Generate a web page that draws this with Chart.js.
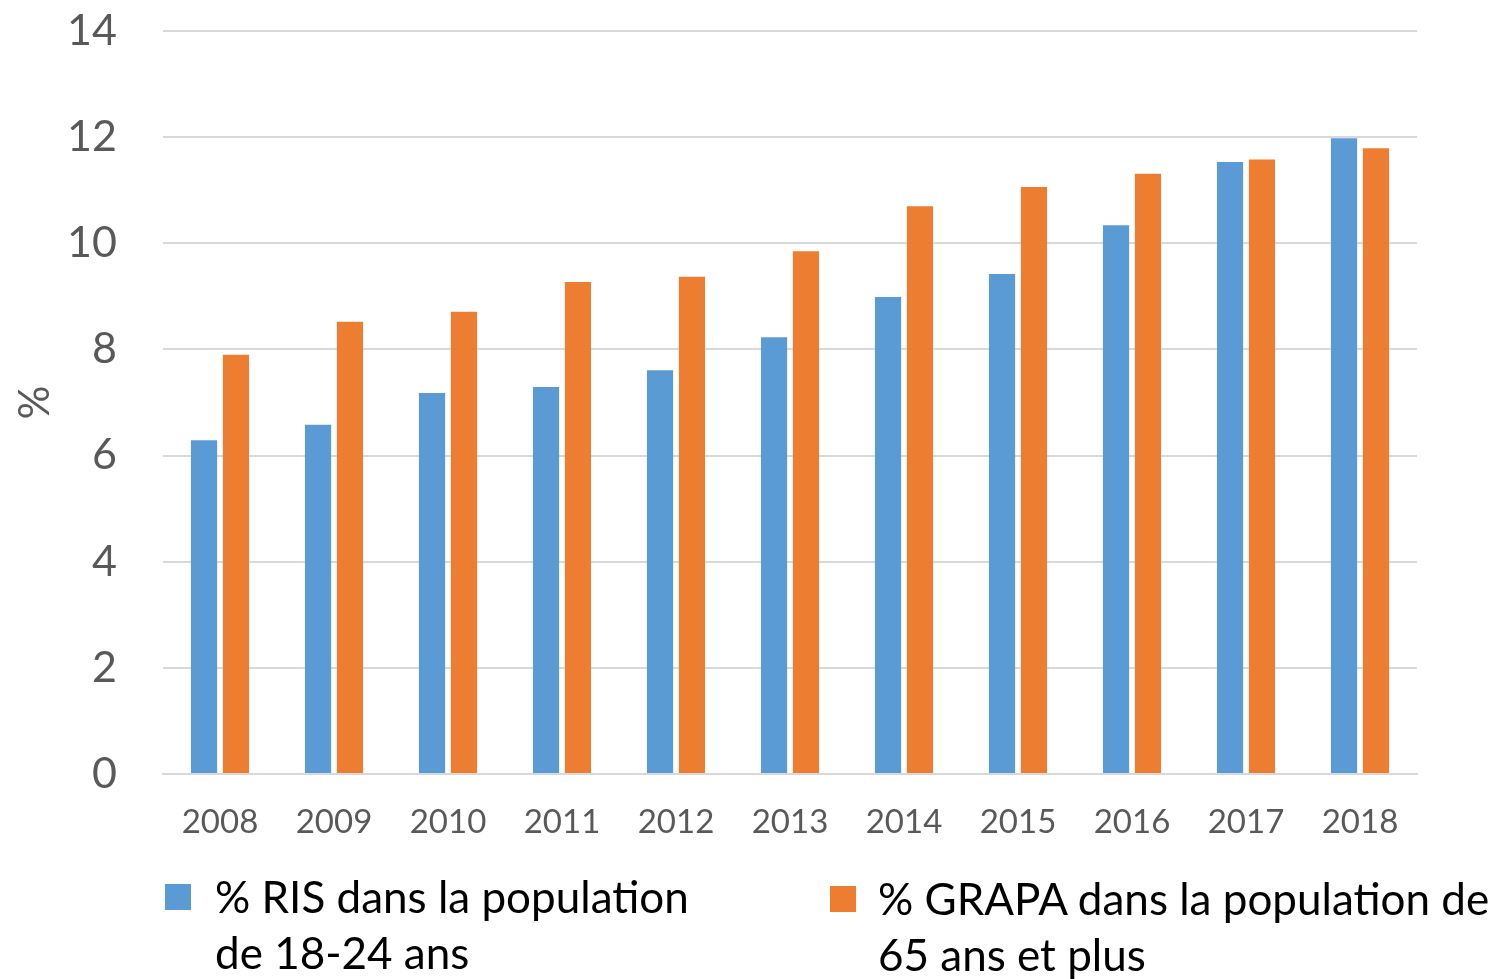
<!DOCTYPE html>
<html>
<head>
<meta charset="utf-8">
<script src="https://cdn.jsdelivr.net/npm/chart.js@4/dist/chart.umd.min.js"></script>
<style>
  html, body { margin: 0; padding: 0; background: #fff; }
  #wrap { position: relative; width: 1493px; height: 979px; overflow: hidden; }
  .legend-item { position: absolute; font-family: Lato, "Open Sans", sans-serif; font-size: 44px; line-height: 56px; color: #000; white-space: nowrap; }
  .legend-item .box { position: absolute; width: 26px; height: 26px; }
</style>
</head>
<body>
<div id="wrap">
  <canvas id="chart" width="1493" height="979"></canvas>
  <div class="legend-item" style="left:215px; top:868px;">
    <span class="box" style="left:-50px; top:16px; background:#5b9bd5;"></span>
    % RIS dans la population<br>de 18-24 ans
  </div>
  <div class="legend-item" style="left:878px; top:870px;">
    <span class="box" style="left:-48px; top:16px; background:#ed7d31;"></span>
    % GRAPA dans la population de<br>65 ans et plus
  </div>
</div>
<script>
// years on the x axis
const years = ["2008", "2009", "2010", "2011", "2012", "2013", "2014", "2015", "2016", "2017", "2018"];

// % RIS in the 18-24 population
const risValues = [6.29, 6.58, 7.18, 7.29, 7.61, 8.23, 8.99, 9.42, 10.34, 11.53, 11.98];

// % GRAPA in the 65+ population
const grapaValues = [7.9, 8.52, 8.71, 9.27, 9.37, 9.85, 10.7, 11.06, 11.31, 11.58, 11.79];

const seriesLabels = ["% RIS dans la population de 18-24 ans", "% GRAPA dans la population de 65 ans et plus"];

const ctx = document.getElementById("chart").getContext("2d");
new Chart(ctx, {
    type: "bar",
    data: {
        labels: years,
        datasets: [
            {
                label: seriesLabels[0],
                data: risValues,
                backgroundColor: "#5b9bd5",
                categoryPercentage: 0.56,
                barPercentage: 0.82
            },
            {
                label: seriesLabels[1],
                data: grapaValues,
                backgroundColor: "#ed7d31",
                categoryPercentage: 0.56,
                barPercentage: 0.82
            }
        ]
    },
    options: {
        responsive: false,
        animation: false,
        layout: { padding: { left: 0, right: 76, top: 31, bottom: 0 } },
        plugins: {
            legend: { display: false },
            tooltip: { enabled: false }
        },
        scales: {
            x: {
                grid: { display: false, drawTicks: false },
                border: { display: true, color: "#d9d9d9", width: 2 },
                ticks: {
                    color: "#595959",
                    padding: 29,
                    font: { family: "Lato", size: 33 }
                },
                afterFit: (scale) => { scale.height = 205; }
            },
            y: {
                min: 0,
                max: 14,
                ticks: {
                    stepSize: 2,
                    color: "#595959",
                    padding: 0,
                    font: { family: "Lato", size: 43 }
                },
                // invisible tick marks keep the labels away from the plot
                grid: { color: "#d9d9d9", lineWidth: 2, drawTicks: true, tickLength: 46, tickColor: "rgba(0,0,0,0)" },
                border: { display: false },
                title: {
                    display: true,
                    text: "%",
                    color: "#595959",
                    font: { family: "Lato", size: 42 },
                    padding: { top: 10, bottom: 0 }
                },
                afterFit: (scale) => { scale.width = 163; }
            }
        }
    }
});
</script>
</body>
</html>
